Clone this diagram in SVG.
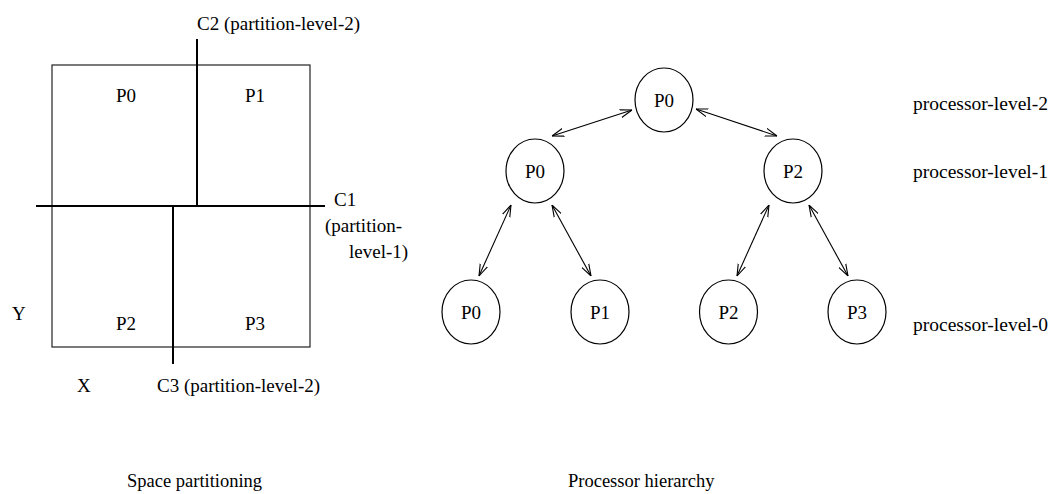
<svg xmlns="http://www.w3.org/2000/svg" width="1050" height="494" viewBox="0 0 1050 494" font-family="'Liberation Serif', Tinos, 'DejaVu Serif', serif">
  <style>
    text { font-family: 'Liberation Serif', Tinos, 'DejaVu Serif', serif; font-size: 19px; fill: #000; }
    .mid { text-anchor: middle; }
    .caption { font-size: 18.5px; }
    .lvl { font-size: 19.5px; }
    .region { fill: none; stroke: #222; stroke-width: 1.2; }
    .cut { fill: none; stroke: #000; stroke-width: 2; }
    .proc ellipse { fill: #fff; stroke: #000; stroke-width: 1.2; }
    .link { fill: none; stroke: #000; stroke-width: 1.1; marker-start: url(#head); marker-end: url(#head); }
  </style>
  <defs>
    <marker id="head" viewBox="0 0 12 10" refX="12" refY="5" markerWidth="12" markerHeight="10" markerUnits="userSpaceOnUse" orient="auto-start-reverse">
      <path d="M0,1 L12,5 L0,9" fill="none" stroke="#000" stroke-width="1.1"/>
    </marker>
  </defs>

  <!-- Space partitioning -->
  <g id="space">
    <rect class="region" x="52" y="65" width="258" height="282"/>
    <line class="cut" x1="197" y1="39" x2="197" y2="206"/>
    <line class="cut" x1="36" y1="206" x2="325" y2="206"/>
    <line class="cut" x1="173" y1="206" x2="173" y2="364"/>
    <text x="197" y="30">C2 (partition-level-2)</text>
    <text x="334" y="206">C1</text>
    <text x="325" y="232">(partition-</text>
    <text x="349" y="258">level-1)</text>
    <text x="157" y="392">C3 (partition-level-2)</text>
    <text x="116" y="102">P0</text>
    <text x="245" y="102">P1</text>
    <text x="116" y="330">P2</text>
    <text x="245" y="330">P3</text>
    <text x="12" y="320">Y</text>
    <text x="77" y="392">X</text>
    <text class="caption" x="127" y="487">Space partitioning</text>
  </g>

  <!-- Processor hierarchy: connectors -->
  <g id="connectors">
    <line class="link" x1="632" y1="110" x2="552" y2="136"/>
    <line class="link" x1="696" y1="109" x2="777" y2="136"/>
    <line class="link" x1="511" y1="205" x2="479" y2="276"/>
    <line class="link" x1="552" y1="205" x2="591" y2="276"/>
    <line class="link" x1="769" y1="205" x2="737" y2="276"/>
    <line class="link" x1="809" y1="205" x2="848" y2="276"/>
  </g>

  <!-- Processor hierarchy: nodes -->
  <g id="n-l2-p0" class="proc">
    <ellipse cx="664" cy="100" rx="29" ry="32"/>
    <text class="mid" x="664" y="107">P0</text>
  </g>
  <g id="n-l1-p0" class="proc">
    <ellipse cx="535" cy="171" rx="29" ry="32"/>
    <text class="mid" x="535" y="178">P0</text>
  </g>
  <g id="n-l1-p2" class="proc">
    <ellipse cx="793" cy="171" rx="29" ry="32"/>
    <text class="mid" x="793" y="178">P2</text>
  </g>
  <g id="n-l0-p0" class="proc">
    <ellipse cx="471" cy="312" rx="29" ry="32"/>
    <text class="mid" x="471" y="319">P0</text>
  </g>
  <g id="n-l0-p1" class="proc">
    <ellipse cx="600" cy="312" rx="29" ry="32"/>
    <text class="mid" x="600" y="319">P1</text>
  </g>
  <g id="n-l0-p2" class="proc">
    <ellipse cx="728.5" cy="312" rx="29" ry="32"/>
    <text class="mid" x="728.5" y="319">P2</text>
  </g>
  <g id="n-l0-p3" class="proc">
    <ellipse cx="857" cy="312" rx="29" ry="32"/>
    <text class="mid" x="857" y="319">P3</text>
  </g>

  <g id="levels">
    <text class="lvl" x="913" y="110">processor-level-2</text>
    <text class="lvl" x="913" y="178">processor-level-1</text>
    <text class="lvl" x="913" y="331">processor-level-0</text>
    <text class="caption" x="568" y="487">Processor hierarchy</text>
  </g>
</svg>
